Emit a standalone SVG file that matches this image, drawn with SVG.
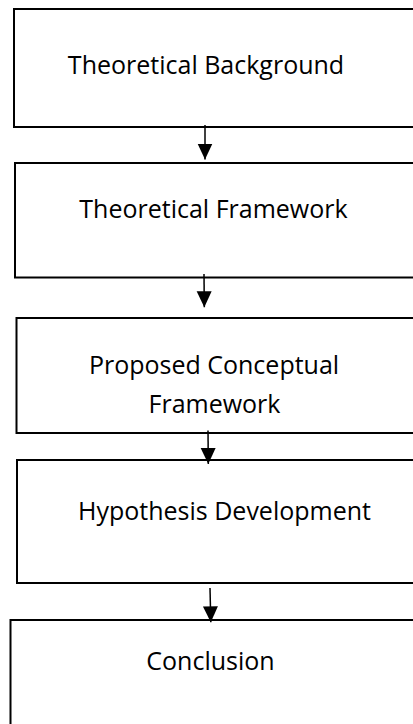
<svg xmlns="http://www.w3.org/2000/svg" width="413" height="724" viewBox="0 0 413 724">
  <style>
    .box { fill: #ffffff; stroke: #000000; stroke-width: 2; }
    .label { font-family: "Open Sans", "Liberation Sans", sans-serif; font-size: 25px; fill: #000000; text-anchor: middle; }
    .link { stroke: #000000; stroke-width: 1.5; fill: none; marker-end: url(#head); }
  </style>
  <defs>
    <marker id="head" markerUnits="userSpaceOnUse" markerWidth="16" markerHeight="16" refX="16" refY="7.5" orient="auto">
      <path d="M0,0 L16,7.5 L0,15 Z" fill="#000000"/>
    </marker>
  </defs>
  <rect width="413" height="724" fill="#ffffff"/>

  <g id="theoretical-background">
    <rect class="box" x="14" y="9" width="420" height="118"/>
    <text class="label" x="206" y="73.5">Theoretical Background</text>
  </g>

  <g id="theoretical-framework">
    <rect class="box" x="15" y="163" width="420" height="114.5"/>
    <text class="label" x="213.5" y="217.5">Theoretical Framework</text>
  </g>

  <g id="proposed-conceptual-framework">
    <rect class="box" x="16.5" y="318" width="420" height="115"/>
    <text class="label" x="214" y="373.5">Proposed Conceptual</text>
    <text class="label" x="214.5" y="412.5">Framework</text>
  </g>

  <g id="hypothesis-development">
    <rect class="box" x="17" y="460" width="420" height="123"/>
    <text class="label" x="224.5" y="519.5">Hypothesis Development</text>
  </g>

  <g id="conclusion">
    <rect class="box" x="10.5" y="620" width="420" height="140"/>
    <text class="label" x="210.5" y="670">Conclusion</text>
  </g>

  <g id="connectors">
    <line class="link" x1="205" y1="125" x2="205" y2="159.5"/>
    <line class="link" x1="204" y1="274" x2="204.3" y2="307.3"/>
    <line class="link" x1="208" y1="430.5" x2="208.3" y2="464"/>
    <line class="link" x1="210" y1="588" x2="210.8" y2="622.3"/>
  </g>
</svg>
